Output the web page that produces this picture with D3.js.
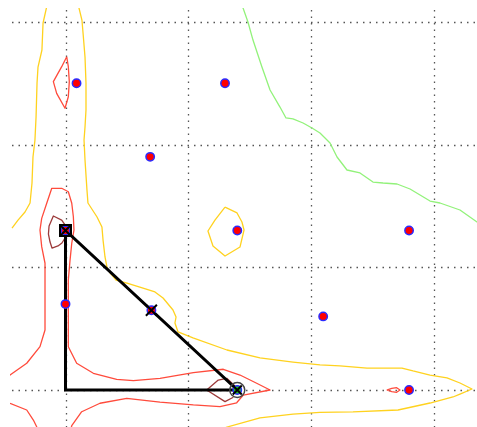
<!DOCTYPE html>
<html>
<head>
<meta charset="utf-8">
<script src="https://cdn.jsdelivr.net/npm/d3@7"></script>
<style>
  html, body { margin: 0; padding: 0; background: #fff; }
  svg { display: block; }
</style>
</head>
<body>
<svg id="chart" width="477" height="427"></svg>
<script>
// Grid tick positions (one unit per cell)
const xTicks = [0, 1, 2, 3];
const yTicks = [0, 1, 2, 3];

// Sample points
const points = [
  [0.09, 2.50], [1.30, 2.50], [0.69, 1.90], [1.40, 1.30], [2.80, 1.30],
  [0.00, 0.70], [2.10, 0.60], [2.80, 0.00], [0.00, 1.30], [0.70, 0.65]
];

// Triangle corners
const triangle = [[0.00, 1.30], [0.00, 0.00], [1.40, 0.00]];
const hypotenuseMid = [0.70, 0.65];

// Contour lines of the field
const yellowLeft = [
  [-0.436, 1.320], [-0.387, 1.385], [-0.330, 1.451], [-0.289, 1.524], [-0.273, 1.687],
  [-0.265, 1.899], [-0.249, 2.037], [-0.240, 2.225], [-0.232, 2.502], [-0.224, 2.632],
  [-0.192, 2.771], [-0.183, 2.991], [-0.145, 3.160]
];
const yellowMain = [
  [0.110, 3.160], [0.110, 3.113], [0.134, 3.015], [0.143, 2.910], [0.159, 2.714],
  [0.167, 2.502], [0.167, 2.282], [0.159, 2.143], [0.151, 2.037], [0.159, 1.874],
  [0.175, 1.630], [0.183, 1.524], [0.257, 1.410], [0.297, 1.328], [0.306, 1.222],
  [0.322, 1.084], [0.338, 1.002], [0.363, 0.954], [0.412, 0.896], [0.501, 0.872],
  [0.632, 0.831], [0.729, 0.799], [0.795, 0.750], [0.876, 0.652], [0.901, 0.595],
  [0.892, 0.546], [0.917, 0.473], [1.039, 0.424], [1.316, 0.326], [1.585, 0.261],
  [1.854, 0.228], [2.074, 0.204], [2.237, 0.196], [2.457, 0.179], [2.742, 0.179],
  [2.832, 0.155], [2.971, 0.122], [3.109, 0.098], [3.215, 0.057], [3.313, 0.008],
  [3.215, -0.033], [3.158, -0.057], [2.971, -0.106], [2.710, -0.163], [2.343, -0.179],
  [2.074, -0.183], [1.854, -0.196], [1.585, -0.228], [1.316, -0.302], [1.218, -0.342]
];
const yellowLoop = [
  [1.300, 1.491], [1.398, 1.443], [1.438, 1.369], [1.455, 1.304], [1.422, 1.165],
  [1.300, 1.092], [1.202, 1.174], [1.161, 1.296], [1.218, 1.385], [1.300, 1.491]
];
const greenLine = [
  [1.430, 3.160], [1.447, 3.113], [1.487, 2.999], [1.528, 2.852], [1.601, 2.632],
  [1.667, 2.445], [1.748, 2.306], [1.797, 2.217], [1.854, 2.209], [1.936, 2.176],
  [2.009, 2.135], [2.074, 2.095], [2.156, 2.013], [2.213, 1.899], [2.294, 1.793],
  [2.400, 1.769], [2.506, 1.695], [2.588, 1.687], [2.702, 1.679], [2.808, 1.638],
  [2.971, 1.540], [3.052, 1.524], [3.215, 1.467], [3.380, 1.350]
];
const redTopLoop = [
  [0.010, 2.716], [-0.031, 2.635], [-0.099, 2.513], [-0.072, 2.418], [-0.004, 2.296],
  [0.023, 2.390], [0.031, 2.513], [0.023, 2.635], [0.010, 2.716]
];
const redMain = [
  [-0.493, 0.090], [-0.452, 0.122], [-0.316, 0.218], [-0.208, 0.353], [-0.167, 0.489],
  [-0.167, 0.896], [-0.167, 1.033], [-0.194, 1.168], [-0.208, 1.304], [-0.194, 1.399],
  [-0.153, 1.522], [-0.112, 1.644], [-0.031, 1.644], [0.023, 1.616], [0.051, 1.522],
  [0.064, 1.412], [0.069, 1.304], [0.051, 1.196], [0.037, 1.059], [0.023, 0.896],
  [0.023, 0.353], [0.091, 0.218], [0.227, 0.136], [0.417, 0.087], [0.553, 0.076],
  [0.770, 0.095], [1.042, 0.141], [1.286, 0.169], [1.422, 0.122], [1.558, 0.055],
  [1.667, 0.000], [1.449, -0.041], [1.395, -0.104], [1.259, -0.136], [1.042, -0.122],
  [0.770, -0.098], [0.499, -0.068], [0.281, -0.108], [0.132, -0.177], [0.051, -0.291],
  [0.037, -0.342]
];
const redLowerLeft = [
  [-0.493, -0.090], [-0.452, -0.108], [-0.316, -0.163], [-0.262, -0.245],
  [-0.235, -0.299], [-0.224, -0.342]
];
const redSmallLoop = [
  [2.618, 0.000], [2.659, 0.014], [2.699, 0.019], [2.726, 0.000],
  [2.699, -0.019], [2.659, -0.014], [2.618, 0.000]
];
const darkRedLoopA = [
  [-0.004, 1.345], [-0.031, 1.385], [-0.099, 1.418], [-0.134, 1.337], [-0.139, 1.271],
  [-0.126, 1.206], [-0.110, 1.157], [-0.061, 1.174], [-0.029, 1.198], [-0.004, 1.239]
];
const darkRedLoopB = [
  [1.381, 0.033], [1.314, 0.095], [1.245, 0.081], [1.151, 0.000],
  [1.300, -0.095], [1.368, -0.059]
];

const contours = [
  { pts: yellowLeft, color: "#ffd21f" },
  { pts: yellowMain, color: "#ffd21f" },
  { pts: yellowLoop, color: "#ffd21f" },
  { pts: greenLine, color: "#92f27a" },
  { pts: redTopLoop, color: "#ff4b3c" },
  { pts: redMain, color: "#ff4b3c" },
  { pts: redLowerLeft, color: "#ff4b3c" },
  { pts: redSmallLoop, color: "#ff4b3c" },
  { pts: darkRedLoopA, color: "#9c3a3a" },
  { pts: darkRedLoopB, color: "#9c3a3a" }
];

const W = 477, H = 427;
const svg = d3.select("#chart");

const x = d3.scaleLinear().domain([0, 1]).range([65.5, 188.2]);
const y = d3.scaleLinear().domain([0, 1]).range([390, 267.3]);

const clipL = 10, clipT = 8;
svg.append("defs").append("clipPath").attr("id", "plot")
  .append("rect").attr("x", clipL).attr("y", clipT)
  .attr("width", W - clipL).attr("height", H - clipT);

const g = svg.append("g").attr("clip-path", "url(#plot)");

// dotted grid
g.append("g").selectAll("line.v").data(xTicks).join("line")
  .attr("x1", d => Math.round(x(d)) + 0.5).attr("x2", d => Math.round(x(d)) + 0.5)
  .attr("y1", clipT + 2).attr("y2", H)
  .attr("stroke", "#555").attr("stroke-width", 1.3).attr("stroke-dasharray", "1.5,5");
g.append("g").selectAll("line.h").data(yTicks).join("line")
  .attr("y1", d => Math.round(y(d)) + 0.5).attr("y2", d => Math.round(y(d)) + 0.5)
  .attr("x1", clipL + 2).attr("x2", W)
  .attr("stroke", "#555").attr("stroke-width", 1.3).attr("stroke-dasharray", "1.5,5");

// contour lines
const line = d3.line().x(d => x(d[0])).y(d => y(d[1]));
g.append("g").selectAll("path").data(contours).join("path")
  .attr("d", d => line(d.pts))
  .attr("fill", "none")
  .attr("stroke", d => d.color)
  .attr("stroke-width", 1.3)
  .attr("stroke-linejoin", "round");

// triangle
g.append("path")
  .attr("d", line(triangle) + "Z")
  .attr("fill", "none").attr("stroke", "#000").attr("stroke-width", 3)
  .attr("stroke-linejoin", "miter");

// sample points
g.append("g").selectAll("circle").data(points).join("circle")
  .attr("cx", d => x(d[0])).attr("cy", d => y(d[1])).attr("r", 4.2)
  .attr("fill", "#f00").attr("stroke", "#2a2aff").attr("stroke-width", 1.5);

// corner markers
const cross = (cx, cy, s) => `M${cx - s},${cy - s}L${cx + s},${cy + s}M${cx - s},${cy + s}L${cx + s},${cy - s}`;
const apex = triangle[0], rightCorner = triangle[2];

g.append("rect")
  .attr("x", x(apex[0]) - 5.5).attr("y", y(apex[1]) - 5.5)
  .attr("width", 11).attr("height", 11)
  .attr("fill", "none").attr("stroke", "#000").attr("stroke-width", 2);
g.append("path").attr("d", cross(x(apex[0]), y(apex[1]), 5))
  .attr("stroke", "#000").attr("stroke-width", 2);

g.append("path").attr("d", cross(x(hypotenuseMid[0]), y(hypotenuseMid[1]), 5.5))
  .attr("stroke", "#000").attr("stroke-width", 2);

g.append("circle").attr("cx", x(rightCorner[0])).attr("cy", y(rightCorner[1])).attr("r", 4.2)
  .attr("fill", "#1fc21f").attr("stroke", "#2a2aff").attr("stroke-width", 1.5);
g.append("path").attr("d", cross(x(rightCorner[0]), y(rightCorner[1]), 4.5))
  .attr("stroke", "#000").attr("stroke-width", 2);
g.append("circle").attr("cx", x(rightCorner[0])).attr("cy", y(rightCorner[1])).attr("r", 7.5)
  .attr("fill", "none").attr("stroke", "#444").attr("stroke-width", 1.5);
</script>
</body>
</html>
